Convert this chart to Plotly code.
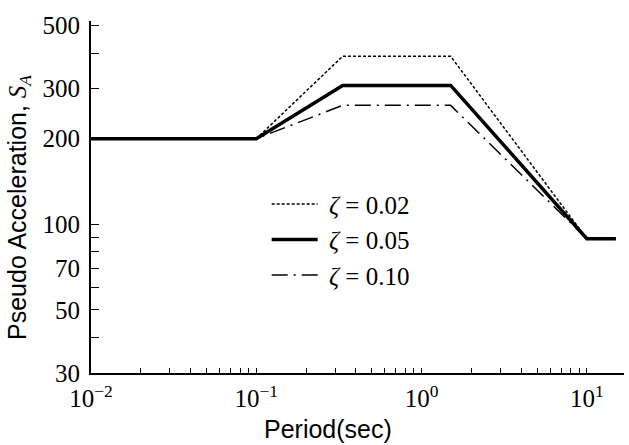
import plotly.graph_objects as go
import math

# Data
period = [0.01, 0.1, 1/3, 1.5, 10, 15]
sa_002 = [200, 200, 390, 390, 89, 89]
sa_005 = [200, 200, 308, 308, 89, 89]
sa_010 = [200, 200, 262, 262, 89, 89]

x_major = [0.01, 0.1, 1, 10]
x_major_text = ["10<sup>\u22122</sup>", "10<sup>\u22121</sup>", "10<sup>0</sup>", "10<sup>1</sup>"]
x_minor = [m * d for d in (0.01, 0.1, 1, 10) for m in range(2, 10)]
y_major = [30, 50, 70, 100, 200, 300, 500]
y_major_text = ["30", "50", "70", "100", "200", "300", "500"]
y_minor = [40, 60, 80, 90, 400]

SERIF = "Liberation Serif"
SANS = "Liberation Sans"
SP = "\u00a0"

fig = go.Figure()
fig.add_trace(go.Scatter(x=period, y=sa_002, mode="lines", name=SP + "<i>\u03b6</i> = 0.02",
                         line=dict(color="black", width=1.5, dash="3px,2px")))
fig.add_trace(go.Scatter(x=period, y=sa_005, mode="lines", name=SP + "<i>\u03b6</i> = 0.05",
                         line=dict(color="black", width=3.5)))
fig.add_trace(go.Scatter(x=period, y=sa_010, mode="lines", name=SP + "<i>\u03b6</i> = 0.10",
                         line=dict(color="black", width=1.5, dash="16px,6px,2px,6px")))

fig.update_layout(
    width=629, height=445,
    margin=dict(l=91, r=5, t=21, b=72),
    paper_bgcolor="white", plot_bgcolor="white",
    showlegend=True,
    legend=dict(x=0.3296, y=0.545, xanchor="left", yanchor="top",
                bgcolor="rgba(0,0,0,0)", borderwidth=0,
                font=dict(family=SERIF, size=25, color="black"),
                tracegroupgap=0, itemwidth=46),
    xaxis=dict(
        type="log", range=[-2, 1.225], automargin=False,
        showline=True, linecolor="black", linewidth=2, mirror=False,
        showgrid=False, zeroline=False,
        ticks="inside", ticklen=5, tickwidth=1.2, tickcolor="black",
        tickmode="array", tickvals=x_major, ticktext=x_major_text,
        tickfont=dict(family=SERIF, size=25, color="black"),
        ticklabelstandoff=2,
        minor=dict(ticks="inside", ticklen=5, tickwidth=1.2, tickcolor="black",
                   tickmode="array", tickvals=x_minor, showgrid=False),
    ),
    yaxis=dict(
        type="log", range=[math.log10(30), 2.715], automargin=False,
        showline=True, linecolor="black", linewidth=2, mirror=False,
        showgrid=False, zeroline=False,
        ticks="inside", ticklen=8, tickwidth=1.2, tickcolor="black",
        tickmode="array", tickvals=y_major, ticktext=y_major_text,
        tickfont=dict(family=SERIF, size=25, color="black"),
        ticklabelstandoff=4,
        minor=dict(ticks="inside", ticklen=8, tickwidth=1.2, tickcolor="black",
                   tickmode="array", tickvals=y_minor, showgrid=False),
    ),
    annotations=[
        dict(text="Period(sec)", xref="paper", yref="paper", x=0.4447, y=-0.158,
             xanchor="center", yanchor="middle", showarrow=False,
             font=dict(family=SANS, size=25, color="black")),
        dict(text="Pseudo Acceleration, <span style=\"font-family:'Liberation Serif'\"><i>S<sub>A</sub></i></span>",
             xref="paper", yref="paper", x=-0.135, y=0.469, textangle=-90,
             xanchor="center", yanchor="middle", showarrow=False,
             font=dict(family=SANS, size=25, color="black")),
    ],
)

fig.write_html("out.html", config={"displayModeBar": False},
               post_script="document.body.style.margin='0px';")
